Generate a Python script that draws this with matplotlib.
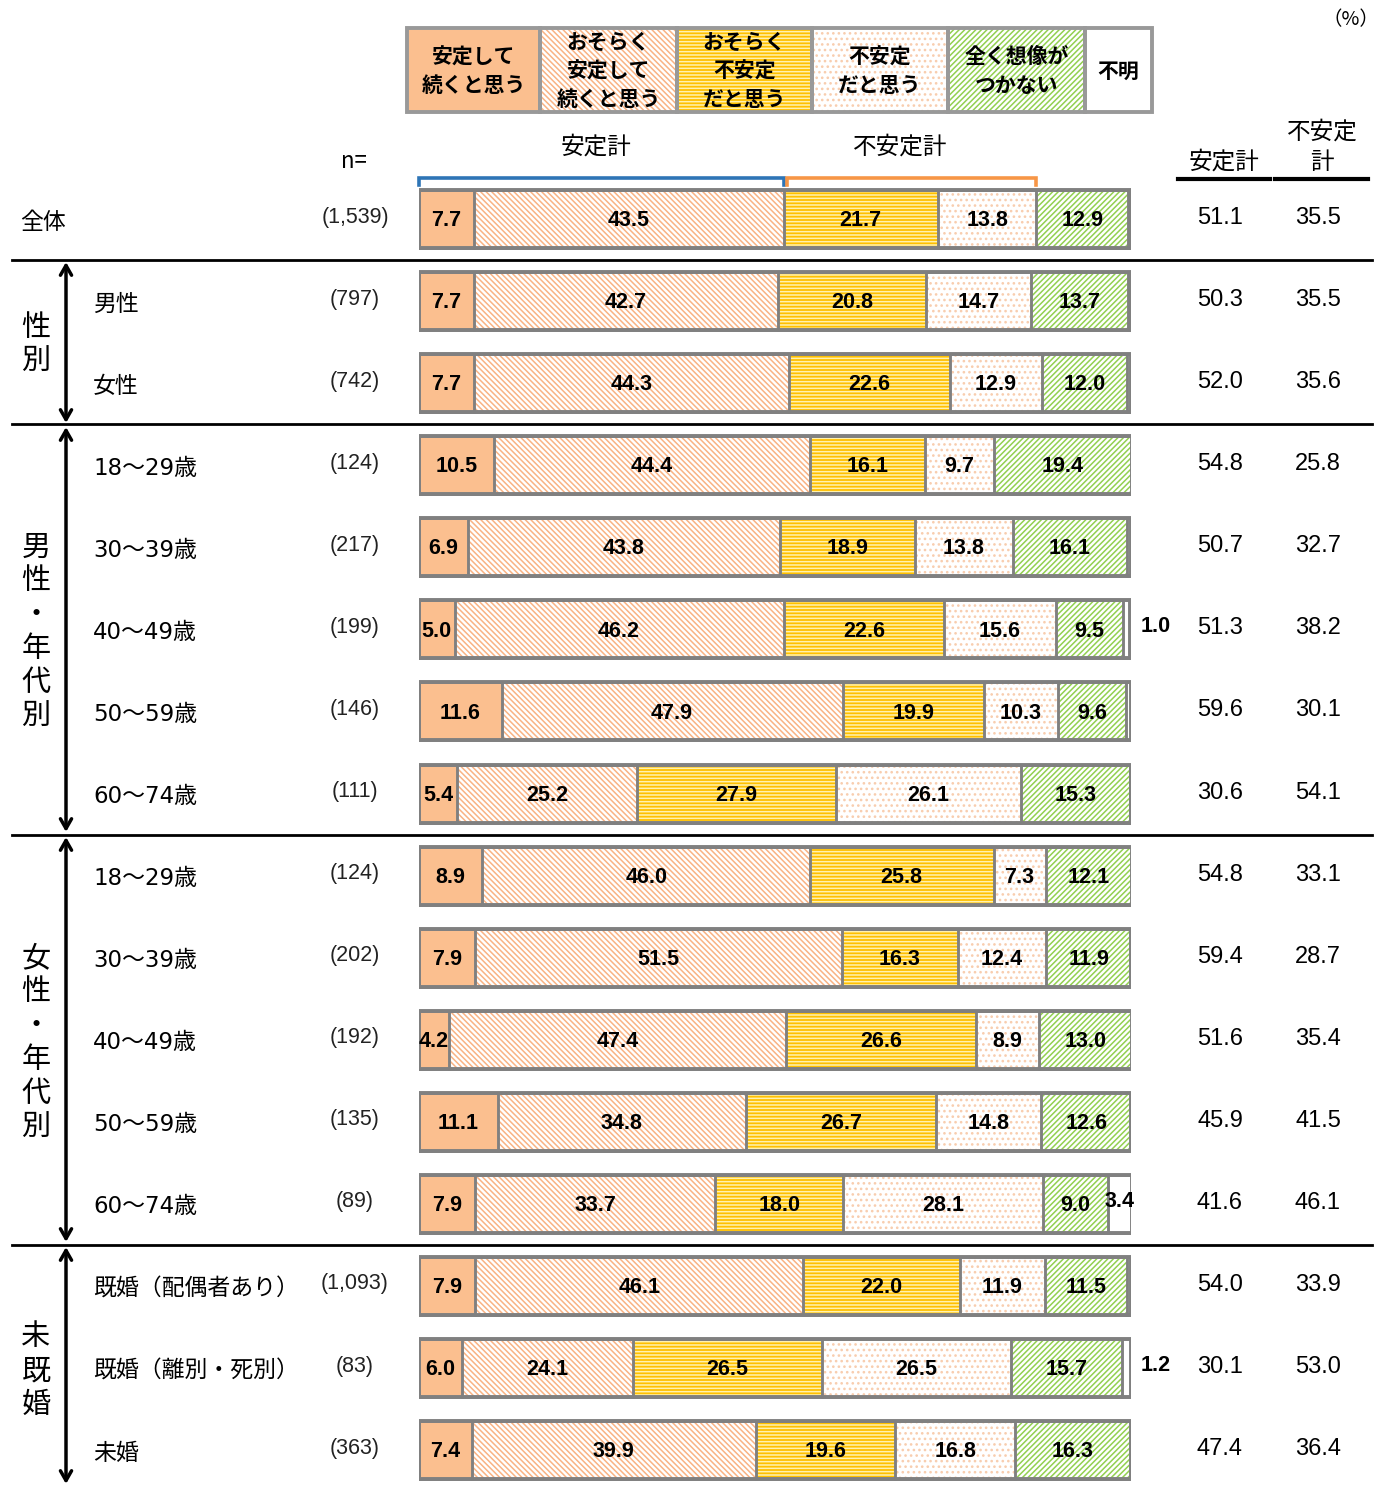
import matplotlib
matplotlib.use("Agg")
import matplotlib.pyplot as plt
from matplotlib.patches import Rectangle

plt.rcParams['font.family'] = ['Liberation Sans', 'Noto Sans CJK JP', 'DejaVu Sans']
plt.rcParams['hatch.linewidth'] = 1.1

JP = ['Noto Sans CJK JP', 'DejaVu Sans']
LAB = ['DejaVu Sans', 'Noto Sans CJK JP']
NARROW = ['Liberation Sans Narrow', 'Liberation Sans', 'DejaVu Sans']

# ---------------- data ----------------
categories = ['全体', '男性', '女性',
              '18～29歳', '30～39歳', '40～49歳', '50～59歳', '60～74歳',
              '18～29歳', '30～39歳', '40～49歳', '50～59歳', '60～74歳',
              '既婚（配偶者あり）', '既婚（離別・死別）', '未婚']
n_labels = ['(1,539)', '(797)', '(742)', '(124)', '(217)', '(199)', '(146)', '(111)',
            '(124)', '(202)', '(192)', '(135)', '(89)', '(1,093)', '(83)', '(363)']

s_stable = [7.7, 7.7, 7.7, 10.5, 6.9, 5.0, 11.6, 5.4, 8.9, 7.9, 4.2, 11.1, 7.9, 7.9, 6.0, 7.4]
s_prob_stable = [43.5, 42.7, 44.3, 44.4, 43.8, 46.2, 47.9, 25.2, 46.0, 51.5, 47.4, 34.8, 33.7, 46.1, 24.1, 39.9]
s_prob_unstable = [21.7, 20.8, 22.6, 16.1, 18.9, 22.6, 19.9, 27.9, 25.8, 16.3, 26.6, 26.7, 18.0, 22.0, 26.5, 19.6]
s_unstable = [13.8, 14.7, 12.9, 9.7, 13.8, 15.6, 10.3, 26.1, 7.3, 12.4, 8.9, 14.8, 28.1, 11.9, 26.5, 16.8]
s_unknown_future = [12.9, 13.7, 12.0, 19.4, 16.1, 9.5, 9.6, 15.3, 12.1, 11.9, 13.0, 12.6, 9.0, 11.5, 15.7, 16.3]
s_na = [0.4, 0.4, 0.5, 0.0, 0.5, 1.0, 0.7, 0.1, 0.0, 0.0, 0.0, 0.0, 3.4, 0.6, 1.2, 0.0]

stable_total = [51.1, 50.3, 52.0, 54.8, 50.7, 51.3, 59.6, 30.6, 54.8, 59.4, 51.6, 45.9, 41.6, 54.0, 30.1, 47.4]
unstable_total = [35.5, 35.5, 35.6, 25.8, 32.7, 38.2, 30.1, 54.1, 33.1, 28.7, 35.4, 41.5, 46.1, 33.9, 53.0, 36.4]

legend_labels = ['安定して\n続くと思う', 'おそらく\n安定して\n続くと思う', 'おそらく\n不安定\nだと思う',
                 '不安定\nだと思う', '全く想像が\nつかない', '不明']

groups = [('性別', 1, 2), ('男性・年代別', 3, 7), ('女性・年代別', 8, 12), ('未既婚', 13, 15)]

series = [s_stable, s_prob_stable, s_prob_unstable, s_unstable, s_unknown_future, s_na]
# style: facecolor, hatch colour, hatch
styles = [('#FBBF8F', '#FBBF8F', None),
          ('white', '#F9B384', '\\\\\\\\\\\\'),
          ('#FFC000', '#FFF2B0', '-----'),
          ('white', '#F8CDAE', '...'),
          ('white', '#92D050', '//////'),
          ('white', 'white', None)]

# ---------------- layout ----------------
W, H = 1381, 1485
fig = plt.figure(figsize=(W / 100, H / 100), dpi=100)

bg = fig.add_axes([0, 0, 1, 1], zorder=0)
bg.set_xlim(0, W)
bg.set_ylim(H, 0)
bg.axis('off')

BAR_L, BAR_R = 419, 1131
TOP = 178
ROW = 82.07
nrows = len(categories)
ax = fig.add_axes([BAR_L / W, 0, (BAR_R - BAR_L) / W, (H - TOP) / H], zorder=2)
ax.patch.set_alpha(0)
ax.set_xlim(0, 100)
ax.set_ylim((H - TOP) / ROW - 0.5, -0.5)
ax.axis('off')


def rowpix(i):
    return TOP + (i + 0.5) * ROW


def xpix(v):
    return BAR_L + v / 100 * (BAR_R - BAR_L)


ys = list(range(nrows))
BH = 58 / ROW
LFS = 15.5
lefts = [0.0] * nrows
for k, (vals, (fc, hc, hatch)) in enumerate(zip(series, styles)):
    ax.barh(ys, vals, left=lefts, height=BH, color=fc, edgecolor=hc,
            linewidth=0, hatch=hatch, zorder=2)
    ax.barh(ys, vals, left=lefts, height=BH, fill=False, edgecolor='#808080',
            linewidth=1.8, zorder=3)
    for i, v in enumerate(vals):
        if k < 5:
            ax.text(lefts[i] + v / 2, i + 0.02, f'{v:.1f}', ha='center', va='center',
                    fontsize=LFS, fontweight='bold', family=NARROW, zorder=5)
        elif v >= 3:
            ax.text(lefts[i] + v / 2, i - 0.03, f'{v:.1f}', ha='center', va='center',
                    fontsize=LFS, fontweight='bold', family=NARROW, zorder=5, clip_on=False)
        elif v >= 1:
            ax.text(lefts[i] + v + 3.5, i - 0.03, f'{v:.1f}', ha='center', va='center',
                    fontsize=LFS, fontweight='bold', family=NARROW, zorder=5, clip_on=False)
    lefts = [l + v for l, v in zip(lefts, vals)]

# outer frames
ax.barh(ys, lefts, left=0, height=BH, fill=False, edgecolor='#808080', linewidth=2.8, zorder=4)

# brackets over the first bar
c0 = s_stable[0] + s_prob_stable[0]
c1 = c0 + s_prob_unstable[0] + s_unstable[0]
yb_top = -0.5
yb_bot = -0.5 + 7 / ROW
ax.plot([0, 0, c0, c0], [yb_bot, yb_top, yb_top, yb_bot], color='#2E75B6', lw=2.6,
        clip_on=False, solid_joinstyle='miter')
ax.plot([c0 + 0.5, c0 + 0.5, c1, c1], [yb_bot, yb_top, yb_top, yb_bot], color='#F79646',
        lw=2.6, clip_on=False, solid_joinstyle='miter')
bg.text(xpix(c0 / 2) - 5, 147, '安定計', ha='center', va='center', fontsize=17, family=JP)
bg.text(xpix((c0 + c1) / 2) - 10, 147, '不安定計', ha='center', va='center', fontsize=17, family=JP)

# row labels, n and totals
for i in range(nrows):
    y = rowpix(i)
    x = 20 if i == 0 else 93
    bg.text(x, y + 3, categories[i], ha='left', va='center', fontsize=16.5, family=LAB)
    bg.text(355, y - 2, n_labels[i], ha='center', va='center', fontsize=15.5, color='#222222')
    bg.text(1220, y - 1, f'{stable_total[i]:.1f}', ha='center', va='center', fontsize=17)
    bg.text(1318, y - 1, f'{unstable_total[i]:.1f}', ha='center', va='center', fontsize=17)

# separators
for i in [0, 2, 7, 12]:
    ysep = (rowpix(i) + rowpix(i + 1)) / 2
    bg.plot([12, 1372], [ysep, ysep], color='black', lw=2)

# group labels and arrows
bounds = {1: (262, 423), 3: (427, 832), 8: (837, 1242), 13: (1247, 1484)}
for name, a, b in groups:
    yc = (rowpix(a) + rowpix(b)) / 2 + 3
    n = len(name)
    for j, ch in enumerate(name):
        bg.text(36, yc + (j - (n - 1) / 2) * 34, ch, ha='center', va='center',
                fontsize=21, family=JP)
    y0, y1 = bounds[a]
    bg.annotate('', xy=(66, y0), xytext=(66, y1),
                arrowprops=dict(arrowstyle='<->,head_length=0.7,head_width=0.4',
                                color='black', lw=2.5, shrinkA=0, shrinkB=0))

# headers
bg.text(354, 162, 'n=', ha='center', va='center', fontsize=16, family=JP)
bg.text(1224, 162, '安定計', ha='center', va='center', fontsize=17, family=JP)
bg.text(1322, 147, '不安定\n計', ha='center', va='center', fontsize=17, family=JP,
        linespacing=1.4)
bg.plot([1178, 1270], [179, 179], color='black', lw=3)
bg.plot([1275, 1368], [179, 179], color='black', lw=3)
bg.text(1351, 20, '（%）', ha='center', va='center', fontsize=14, family=JP)

# legend
edges = [407, 540, 677, 812, 948, 1085, 1152]
for k, lab in enumerate(legend_labels):
    fc, hc, hatch = styles[k]
    x0, x1 = edges[k], edges[k + 1]
    bg.add_patch(Rectangle((x0, 28), x1 - x0, 84, facecolor=fc, edgecolor=hc,
                           linewidth=0, hatch=hatch, zorder=1))
    bg.add_patch(Rectangle((x0, 28), x1 - x0, 84, fill=False, edgecolor='#999999',
                           linewidth=2.8, zorder=2))
    bg.text((x0 + x1) / 2, 71, lab, ha='center', va='center', fontsize=15,
            fontweight='bold', family=JP, linespacing=1.45, zorder=3)

fig.savefig('out.png', dpi=100)
